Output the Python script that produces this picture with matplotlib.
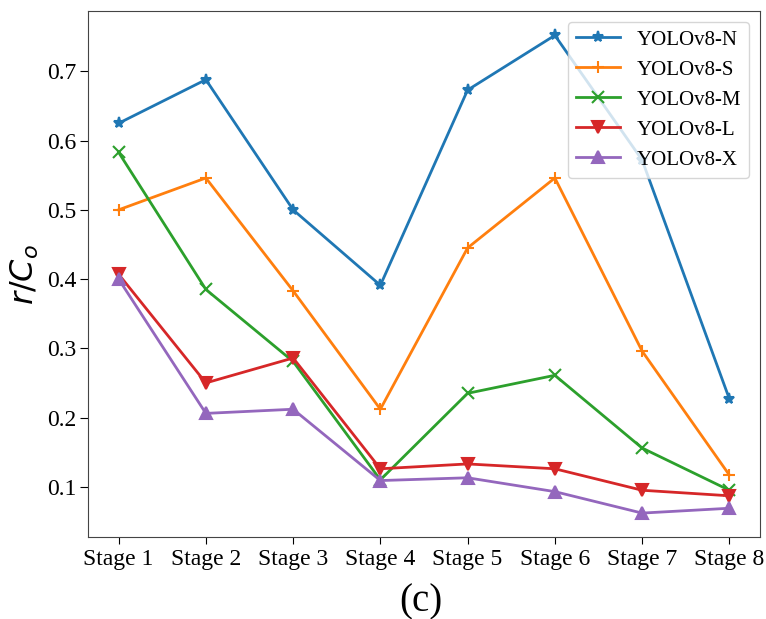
import matplotlib.pyplot as plt

stages = ["Stage 1", "Stage 2", "Stage 3", "Stage 4",
          "Stage 5", "Stage 6", "Stage 7", "Stage 8"]

yolo_n = [0.625, 0.688, 0.500, 0.391, 0.673, 0.752, 0.572, 0.227]
yolo_s = [0.500, 0.546, 0.383, 0.212, 0.445, 0.546, 0.296, 0.117]
yolo_m = [0.583, 0.385, 0.281, 0.110, 0.235, 0.261, 0.156, 0.095]
yolo_l = [0.407, 0.250, 0.286, 0.126, 0.133, 0.126, 0.095, 0.087]
yolo_x = [0.400, 0.206, 0.212, 0.109, 0.113, 0.093, 0.062, 0.069]

series = [
    ("YOLOv8-N", yolo_n, "*", "#1f77b4"),
    ("YOLOv8-S", yolo_s, "+", "#ff7f0e"),
    ("YOLOv8-M", yolo_m, "x", "#2ca02c"),
    ("YOLOv8-L", yolo_l, "v", "#d62728"),
    ("YOLOv8-X", yolo_x, "^", "#9467bd"),
]

plt.rcParams["font.family"] = ["Liberation Serif", "DejaVu Serif"]

fig = plt.figure(figsize=(7.66, 6.19), dpi=100)
ax = fig.add_axes([0.115, 0.1325, 0.877, 0.849])

for name, vals, mk, col in series:
    ax.plot(stages, vals, marker=mk, color=col, label=name,
            linewidth=2, markersize=8, markeredgewidth=1.5)

ax.set_ylabel(r"$r/C_o$", fontsize=23, family="DejaVu Sans", labelpad=4)
ax.tick_params(labelsize=17, length=5)
ax.tick_params(axis="y", length=5.5, pad=3)
ax.legend(loc="upper right", fontsize=15, handlelength=2.1)
for sp in ax.spines.values():
    sp.set_color("#444444")

fig.text(0.55, 0.028, "(c)", ha="center", va="center", fontsize=28)

fig.savefig("out.png", dpi=100)
